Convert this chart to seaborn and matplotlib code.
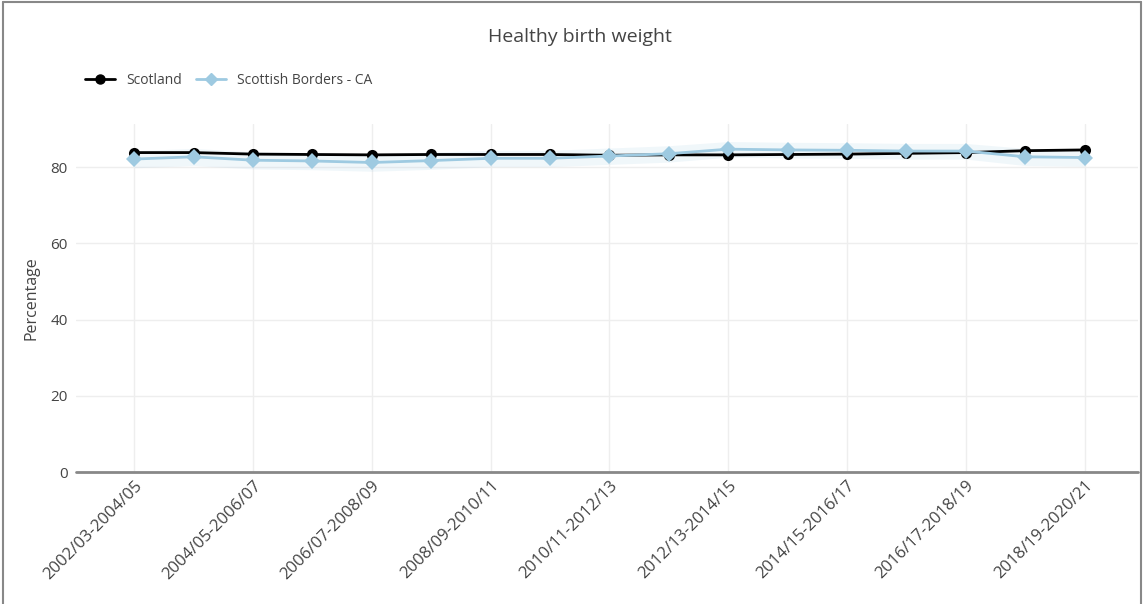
"""
Healthy birth weight: Scotland vs Scottish Borders (3-year rolling periods).
"""

import matplotlib
matplotlib.use("Agg")
import matplotlib.pyplot as plt
from matplotlib.lines import Line2D
import pandas as pd
import seaborn as sns

# Data
periods = [
    "2002/03-2004/05", "2003/04-2005/06", "2004/05-2006/07", "2005/06-2007/08",
    "2006/07-2008/09", "2007/08-2009/10", "2008/09-2010/11", "2009/10-2011/12",
    "2010/11-2012/13", "2011/12-2013/14", "2012/13-2014/15", "2013/14-2015/16",
    "2014/15-2016/17", "2015/16-2017/18", "2016/17-2018/19", "2017/18-2019/20",
    "2018/19-2020/21",
]
scotland = [83.8, 83.8, 83.4, 83.3, 83.2, 83.3, 83.3, 83.3, 83.1, 83.2,
            83.2, 83.3, 83.4, 83.6, 83.8, 84.3, 84.5]
borders = [82.1, 82.7, 81.8, 81.6, 81.2, 81.7, 82.3, 82.3, 82.9, 83.5,
           84.7, 84.5, 84.4, 84.2, 84.2, 82.7, 82.5]
borders_upper = [84.3, 84.9, 84.0, 83.8, 83.5, 83.9, 84.4, 84.4, 85.0, 85.6,
                 86.7, 86.5, 86.4, 86.2, 86.2, 84.9, 84.7]
borders_lower = [79.8, 80.4, 79.5, 79.3, 78.9, 79.4, 80.1, 80.1, 80.7, 81.3,
                 82.6, 82.4, 82.3, 82.1, 82.1, 80.4, 80.2]

SCOT_COL = "#000000"
BORD_COL = "#9ecae1"

sns.set_style("white")
plt.rcParams["font.family"] = ["Open Sans", "DejaVu Sans"]

df = pd.DataFrame({
    "period": list(range(len(periods))) * 2,
    "value": scotland + borders,
    "area": ["Scotland"] * len(periods) + ["Scottish Borders - CA"] * len(periods),
})

fig = plt.figure(figsize=(11.44, 6.04), dpi=100)
ax = fig.add_axes([76 / 1144, 132 / 604, (1138 - 76) / 1144, (472 - 124) / 604])

# CI band for Borders
ax.fill_between(range(len(periods)), borders_lower, borders_upper,
                color=BORD_COL, alpha=0.15, linewidth=0, zorder=1)

sns.lineplot(data=df, x="period", y="value", hue="area", style="area",
             palette=[SCOT_COL, BORD_COL], markers=["o", "D"], dashes=False,
             markersize=8, linewidth=2, markeredgewidth=0, ax=ax, legend=False,
             zorder=3)

ax.set_xlim(-0.98, 16.9)
ax.set_ylim(0, 91.3)
ax.set_xticks(range(0, len(periods), 2))
ax.set_xticklabels(periods[::2], rotation=45, ha="right", rotation_mode="anchor",
                   fontsize=12, color="#444444")
ax.set_yticks([0, 20, 40, 60, 80])
ax.tick_params(axis="y", labelsize=11, labelcolor="#444444", length=0, pad=6)
ax.tick_params(axis="x", length=0, pad=4)
ax.grid(True, color="#eeeeee", linewidth=1)
ax.set_axisbelow(True)
for s in ax.spines.values():
    s.set_visible(False)
ax.axhline(0, color="#888888", linewidth=2, zorder=2, clip_on=False)
ax.set_xlabel("")
ax.set_ylabel("Percentage", fontsize=11.5, color="#444444", labelpad=8)

fig.text(580 / 1144, 1 - 37 / 604, "Healthy birth weight", ha="center", va="center",
         fontsize=14, color="#444444")

handles = [
    Line2D([], [], color=SCOT_COL, marker="o", markersize=6.5, linewidth=2),
    Line2D([], [], color=BORD_COL, marker="D", markersize=6.5, linewidth=2),
]
fig.legend(handles, ["Scotland", "Scottish Borders - CA"], loc="center left",
           bbox_to_anchor=(72 / 1144, 1 - 80 / 604), ncol=2, frameon=False,
           fontsize=10, handlelength=2.2, columnspacing=1.0, labelcolor="#444444")

# Screenshot frame
for xs, ys in [([0.003, 0.003], [0, 0.997]), ([0.003, 0.9975], [0.997, 0.997]),
               ([0.9975, 0.9975], [0, 0.997])]:
    fig.add_artist(Line2D(xs, ys, color="#888888", linewidth=1.5,
                          transform=fig.transFigure))

plt.savefig("out.png", dpi=100)
plt.close()
